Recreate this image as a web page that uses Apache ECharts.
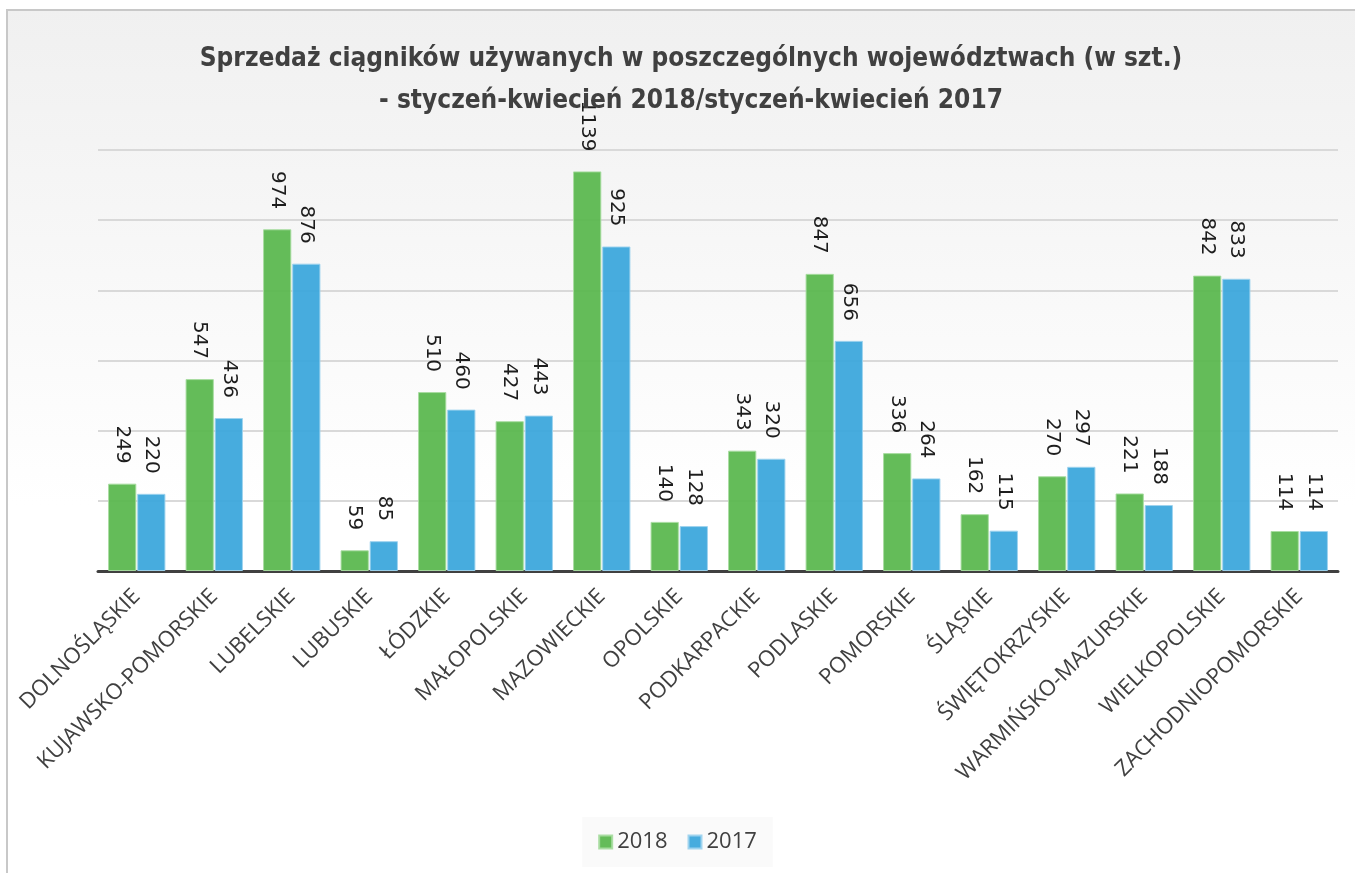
<!DOCTYPE html>
<html>
<head>
<meta charset="utf-8">
<script src="https://cdn.jsdelivr.net/npm/echarts@6/dist/echarts.min.js"></script>
<style>
  html, body { margin: 0; padding: 0; background: #fff; }
  #chart { width: 1355px; height: 873px; }
</style>
</head>
<body>
<div id="chart"></div>
<script>
const categories = [
  'DOLNOŚLĄSKIE', 'KUJAWSKO-POMORSKIE', 'LUBELSKIE', 'LUBUSKIE', 'ŁÓDZKIE',
  'MAŁOPOLSKIE', 'MAZOWIECKIE', 'OPOLSKIE', 'PODKARPACKIE', 'PODLASKIE',
  'POMORSKIE', 'ŚLĄSKIE', 'ŚWIĘTOKRZYSKIE', 'WARMIŃSKO-MAZURSKIE',
  'WIELKOPOLSKIE', 'ZACHODNIOPOMORSKIE'
];
const sales2018 = [249, 547, 974, 59, 510, 427, 1139, 140, 343, 847, 336, 162, 270, 221, 842, 114];
const sales2017 = [220, 436, 876, 85, 460, 443, 925, 128, 320, 656, 264, 115, 297, 188, 833, 114];

const chart = echarts.init(document.getElementById('chart'));

const labelStyle = {
  show: true,
  position: 'top',
  rotate: -90,
  align: 'right',
  verticalAlign: 'middle',
  distance: 20,
  fontFamily: 'DejaVu Sans',
  fontSize: 20,
  color: '#111'
};

chart.setOption({
  animation: false,
  graphic: [{
    type: 'rect',
    z: -10,
    silent: true,
    shape: { x: 7, y: 10, width: 1400, height: 900 },
    style: {
      fill: new echarts.graphic.LinearGradient(0, 0, 0, 1, [
        { offset: 0, color: '#f0f0f0' },
        { offset: 0.55, color: '#ffffff' },
        { offset: 1, color: '#ffffff' }
      ]),
      stroke: '#c8c8c8',
      lineWidth: 2
    }
  }],
  title: {
    text: 'Sprzedaż ciągników używanych w poszczególnych województwach (w szt.)\n- styczeń-kwiecień 2018/styczeń-kwiecień 2017',
    left: 686,
    top: 33,
    textAlign: 'center',
    textStyle: {
      fontFamily: "'Liberation Sans Narrow', 'DejaVu Sans Condensed', 'Open Sans', sans-serif",
      fontWeight: 'bold',
      fontSize: 26,
      lineHeight: 42,
      color: '#404040'
    }
  },
  legend: {
    bottom: 6,
    left: 'center',
    icon: 'rect',
    itemWidth: 13,
    itemHeight: 13,
    itemGap: 20,
    padding: [14, 16],
    backgroundColor: '#fafafa',
    textStyle: { fontFamily: 'Open Sans', fontSize: 22, color: '#404040' },
    data: ['2018', '2017']
  },
  grid: { left: 98, right: 17, top: 150, bottom: 302 },
  xAxis: {
    type: 'category',
    data: categories,
    axisLine: { lineStyle: { color: '#404040', width: 3 } },
    axisTick: { show: false },
    axisLabel: {
      interval: 0,
      rotate: 45,
      margin: 22,
      fontFamily: 'Open Sans',
      fontSize: 22,
      color: '#404040'
    }
  },
  yAxis: {
    type: 'value',
    min: 0,
    max: 1200,
    interval: 200,
    axisLabel: { show: false },
    axisLine: { show: false },
    axisTick: { show: false },
    splitLine: { lineStyle: { color: '#d9d9d9', width: 2 } }
  },
  series: [
    {
      name: '2018',
      type: 'bar',
      data: sales2018,
      barGap: '3%',
      barCategoryGap: '26%',
      itemStyle: { color: '#5cb850', opacity: 0.95, borderColor: '#a8dca0', borderWidth: 1 },
      label: labelStyle
    },
    {
      name: '2017',
      type: 'bar',
      data: sales2017,
      itemStyle: { color: '#3da8dc', opacity: 0.95, borderColor: '#9ed3ee', borderWidth: 1 },
      label: labelStyle
    }
  ]
});
</script>
</body>
</html>
